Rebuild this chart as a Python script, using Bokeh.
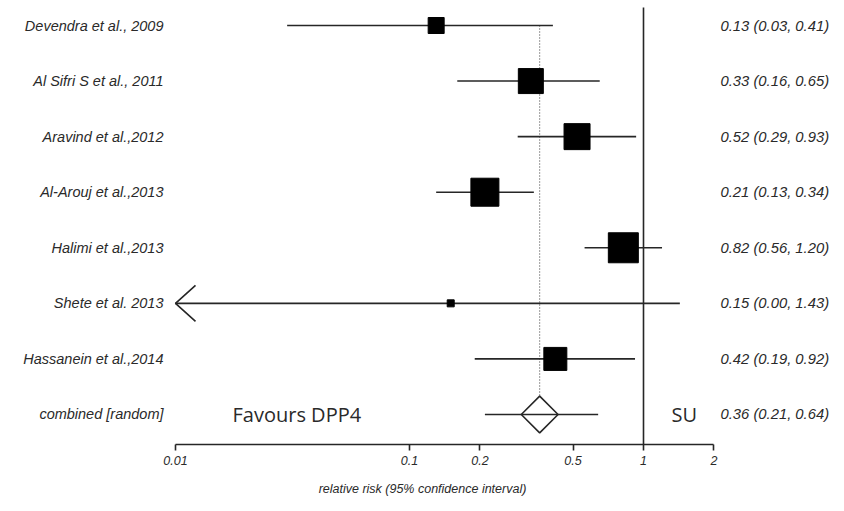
import math
from bokeh.plotting import figure
from bokeh.models import (Range1d, FixedTicker, CustomJSTickFormatter, ColumnDataSource)
from bokeh.core.properties import value
from bokeh.embed import file_html
from bokeh.resources import INLINE

# ---------------- data ----------------
studies = ["Devendra et al., 2009", "Al Sifri S et al., 2011", "Aravind et al.,2012",
           "Al-Arouj et al.,2013", "Halimi et al.,2013", "Shete et al. 2013",
           "Hassanein et al.,2014"]
rr = [0.13, 0.33, 0.52, 0.21, 0.82, 0.15, 0.42]
lower = [0.03, 0.16, 0.29, 0.13, 0.56, 0.00, 0.19]
upper = [0.41, 0.65, 0.93, 0.34, 1.20, 1.43, 0.92]
combined_label = "combined [random]"
combined = [0.36, 0.21, 0.64]
tick_values = [0.01, 0.1, 0.2, 0.5, 1, 2]
axis_title = "relative risk (95% confidence interval)"
left_note = "Favours DPP4"
right_note = "SU"

# ---------------- styling ----------------
box_px = [16, 25, 26, 28, 30, 7, 23]   # marker side lengths (weights)
W, H = 844, 511
FRAME_H = 444
PX_DECADE = 234.0          # pixels per decade on the axis
AX_MIN_PX = 175.0          # pixel position of axis minimum (0.01)
ROW0_PX, ROW_PX = 25.0, 55.57
INK = "#262626"
TXT = "#2a2a2a"

xmin_axis = tick_values[0]
def px_to_x(px):
    return xmin_axis * 10 ** ((px - AX_MIN_PX) / PX_DECADE)
def shift(x, dpx):
    return x * 10 ** (dpx / PX_DECADE)

n = len(studies)
rows = list(range(n))
crow = n

p = figure(width=W, height=H, x_axis_type="log", output_backend="svg",
           toolbar_location=None,
           x_range=Range1d(px_to_x(0), px_to_x(W)),
           y_range=Range1d((FRAME_H - ROW0_PX) / ROW_PX, -ROW0_PX / ROW_PX),
           min_border_left=0, min_border_right=0, min_border_top=0,
           min_border_bottom=H - FRAME_H)
p.outline_line_color = None
p.grid.visible = False
p.yaxis.visible = False
p.background_fill_color = "white"
p.border_fill_color = "white"

ax = p.xaxis[0]
ax.ticker = FixedTicker(ticks=tick_values, minor_ticks=[])
ax.formatter = CustomJSTickFormatter(code="return tick.toString()")
ax.bounds = (tick_values[0], tick_values[-1])
ax.axis_line_color = INK
ax.axis_line_width = 1.6
ax.major_tick_line_color = INK
ax.major_tick_line_width = 1.6
ax.major_tick_in = 0
ax.major_tick_out = 6
ax.minor_tick_line_color = None
ax.major_label_text_font = "Liberation Sans"
ax.major_label_text_font_style = "italic"
ax.major_label_text_font_size = "12.5px"
ax.major_label_text_color = TXT
ax.major_label_standoff = 5
ax.axis_label = axis_title
ax.axis_label_text_font = "Liberation Sans"
ax.axis_label_text_font_style = "italic"
ax.axis_label_text_font_size = "12.5px"
ax.axis_label_text_color = TXT
ax.axis_label_standoff = 14

# reference lines
p.segment(x0=[1], x1=[1], y0=[-18 / ROW_PX], y1=[(FRAME_H - ROW0_PX) / ROW_PX],
          line_color=INK, line_width=1.6)
p.segment(x0=[combined[0]], x1=[combined[0]], y0=[0], y1=[crow - 18 / ROW_PX],
          line_color="#333333", line_width=1, line_dash="1 2")

# whiskers
lo_draw = [max(l, xmin_axis) for l in lower]
src = ColumnDataSource(dict(y=rows, rr=rr, lo=lo_draw, hi=upper, s=box_px,
                            name=studies,
                            txt=[f"{a:.2f} ({b:.2f}, {c:.2f})" for a, b, c in zip(rr, lower, upper)]))
p.segment(x0="lo", x1="hi", y0="y", y1="y", source=src, line_color=INK, line_width=1.6)
p.scatter(x="rr", y="y", size="s", marker="square", source=src,
          fill_color="black", line_color="black")

# arrow for truncated lower bounds
for i, l in enumerate(lower):
    if l < xmin_axis:
        xa = shift(xmin_axis, 20)
        p.multi_line(xs=[[xa, xmin_axis, xa]], ys=[[i - 18 / ROW_PX, i, i + 18 / ROW_PX]],
                     line_color=INK, line_width=1.6)

# combined
p.segment(x0=[combined[1]], x1=[combined[2]], y0=[crow], y1=[crow], line_color=INK, line_width=1.6)
p.scatter(x=[combined[0]], y=[crow], size=26, marker="square", angle=math.pi / 4,
          fill_color=None, line_color=INK, line_width=1.6)

# texts
label_x = shift(xmin_axis, -12)
p.text(x=[label_x] * (n + 1), y=rows + [crow], text=studies + [combined_label],
       text_font=value("Liberation Sans"), text_font_style="italic",
       text_font_size="14.5px", text_color=TXT, text_align="right", text_baseline="middle")
val_x = px_to_x(720)
p.text(x=[val_x] * (n + 1), y=rows + [crow],
       text=list(src.data["txt"]) + [f"{combined[0]:.2f} ({combined[1]:.2f}, {combined[2]:.2f})"],
       text_font=value("Liberation Sans"), text_font_style="italic",
       text_font_size="14.8px", text_color=TXT, text_align="left", text_baseline="middle")
p.text(x=[px_to_x(232)], y=[crow], text=[left_note], text_font=value("Open Sans"),
       text_font_size="20px", text_color=TXT, text_align="left", text_baseline="middle")
p.text(x=[px_to_x(671)], y=[crow], text=[right_note], text_font=value("Open Sans"),
       text_font_size="20px", text_color=TXT, text_align="left", text_baseline="middle")

open("out.html", "w").write(file_html(p, INLINE))
